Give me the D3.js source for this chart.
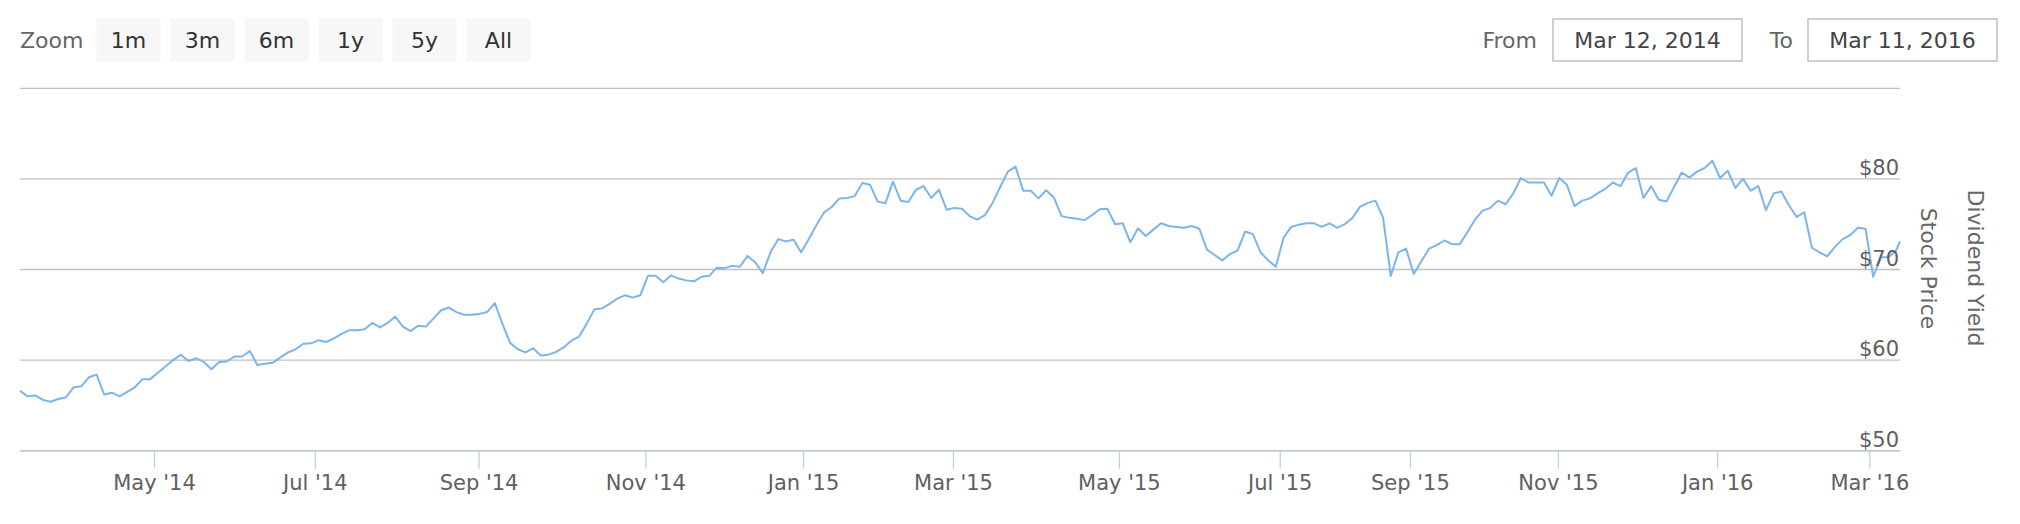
<!DOCTYPE html>
<html>
<head>
<meta charset="utf-8">
<script src="https://cdn.jsdelivr.net/npm/d3@7"></script>
<style>
  body { margin: 0; background: #fff; }
  text { font-family: "DejaVu Sans", sans-serif; }
</style>
</head>
<body>
<div id="chart-area"></div>
<script>
// Stock price, one value every 2nd trading day (last one is the final day)
var stockPrice = [
    56.6, 56.0, 56.1, 55.6, 55.4, 55.7, 55.9, 57.0, 57.1, 58.1,
    58.4, 56.2, 56.4, 56.0, 56.5, 57.0, 57.9, 57.9, 58.6, 59.3,
    60.0, 60.6, 59.9, 60.2, 59.8, 59.0, 59.8, 59.85, 60.4, 60.4,
    61.0, 59.45, 59.6, 59.7, 60.3, 60.85, 61.2, 61.8, 61.85, 62.2,
    62.0, 62.4, 62.9, 63.3, 63.3, 63.4, 64.1, 63.6, 64.1, 64.8,
    63.7, 63.2, 63.8, 63.7, 64.6, 65.5, 65.8, 65.3, 65.0, 65.0,
    65.1, 65.3, 66.3, 64.0, 61.9, 61.2, 60.85, 61.3, 60.5, 60.6,
    60.9, 61.4, 62.15, 62.6, 64.0, 65.6, 65.7, 66.2, 66.8, 67.15,
    66.9, 67.15, 69.3, 69.3, 68.6, 69.35, 69.0, 68.8, 68.7, 69.2,
    69.3, 70.2, 70.15, 70.4, 70.3, 71.5, 70.8, 69.6, 71.9, 73.35,
    73.1, 73.3, 71.9, 73.35, 74.9, 76.3, 76.9, 77.85, 77.9, 78.1,
    79.55, 79.35, 77.5, 77.3, 79.7, 77.6, 77.45, 78.8, 79.2, 77.9,
    78.8, 76.6, 76.8, 76.7, 75.9, 75.5, 76.0, 77.35, 79.1, 80.8,
    81.35, 78.7, 78.7, 77.85, 78.75, 77.95, 75.9, 75.7, 75.6, 75.45,
    76.0, 76.65, 76.7, 75.0, 75.1, 73.0, 74.55, 73.7, 74.4, 75.1,
    74.8, 74.7, 74.6, 74.8, 74.5, 72.2, 71.6, 71.0, 71.7, 72.1,
    74.2, 73.9, 71.9, 71.0, 70.3, 73.5, 74.7, 74.95, 75.1, 75.1,
    74.7, 75.1, 74.6, 75.0, 75.7, 76.95, 77.35, 77.6, 75.7, 69.3,
    71.9, 72.3, 69.5, 70.9, 72.3, 72.7, 73.2, 72.8, 72.8, 74.1,
    75.5, 76.5, 76.8, 77.6, 77.2, 78.4, 80.1, 79.6, 79.6, 79.6,
    78.15, 80.1, 79.35, 77.0, 77.6, 77.85, 78.4, 78.9, 79.6, 79.2,
    80.7, 81.2, 77.9, 79.2, 77.7, 77.5, 79.1, 80.7, 80.15, 80.8,
    81.2, 82.0, 80.1, 80.9, 79.0, 80.0, 78.7, 79.2, 76.55, 78.4,
    78.6, 77.1, 75.8, 76.3, 72.4, 71.9, 71.45, 72.5, 73.35, 73.8,
    74.6, 74.5, 69.2, 71.35, 71.35, 72.1, 73.1
];
var priceStep = 2;

// Market holidays (no data points)
var holidays = [
    "2014-04-18", "2014-05-26", "2014-07-04", "2014-09-01", "2014-11-27", "2014-12-25",
    "2015-01-01", "2015-01-19", "2015-02-16", "2015-04-03", "2015-05-25", "2015-07-03",
    "2015-09-07", "2015-11-26", "2015-12-25",
    "2016-01-01", "2016-01-18", "2016-02-15"
];
// Days the series has no point for (read from the axis spacing)
var missingDays = [
    "2015-07-20", "2015-07-21", "2015-07-22", "2015-07-23", "2015-07-24",
    "2015-07-27", "2015-07-28", "2015-07-29", "2015-07-30",
    "2015-10-12", "2015-10-13", "2015-10-14", "2015-10-15"
];

var yTicks = [50, 60, 70, 80, 90];
var yLabelTicks = [50, 60, 70, 80];
var zoomButtons = ["1m", "3m", "6m", "1y", "5y", "All"];
var fromLabel = "Mar 12, 2014";
var toLabel = "Mar 11, 2016";

var width = 2020;
var height = 524;
var plotLeft = 20;
var plotRight = 1900;

var svg = d3.select("#chart-area")
    .append("svg")
        .attr("width", width)
        .attr("height", height);

// Trading days of the series
var skip = new Set(holidays.concat(missingDays));
var fmtDay = d3.timeFormat("%Y-%m-%d");
var tradingDays = d3.timeDay.range(new Date(2014, 2, 12), new Date(2016, 2, 12))
    .filter(d => d.getDay() % 6 !== 0 && !skip.has(fmtDay(d)));

// Ordinal axis: every point equally spaced, dates in between interpolated
var xIndex = d3.scaleLinear()
    .domain([0, tradingDays.length - 1])
    .range([plotLeft, plotRight]);

var x = d3.scaleTime()
    .domain(tradingDays)
    .range(tradingDays.map((d, i) => xIndex(i)));

var y = d3.scaleLinear()
    .domain([50, 90])
    .range([450.7, 88.3]);

// Grid lines
svg.append("g")
    .attr("class", "grid")
    .selectAll("line")
    .data(yTicks)
    .enter()
    .append("line")
        .attr("x1", plotLeft)
        .attr("x2", plotRight)
        .attr("y1", d => y(d))
        .attr("y2", d => y(d))
        .attr("stroke", "#c0c0c0")
        .attr("stroke-width", 1.3);

// X Axis
var monthTicks = d3.timeMonth.every(2).range(tradingDays[0], tradingDays[tradingDays.length - 1]);
var xAxisCall = d3.axisBottom(x)
    .tickValues(monthTicks)
    .tickFormat(d3.timeFormat("%b '%y"))
    .tickSize(18)
    .tickSizeOuter(0);

var xAxisGroup = svg.append("g")
    .attr("class", "x-axis")
    .attr("transform", "translate(0, " + y(50) + ")")
    .call(xAxisCall);

xAxisGroup.select(".domain")
    .attr("stroke", "#c0d0e0")
    .attr("stroke-width", 1.3);
xAxisGroup.selectAll(".tick line")
    .attr("stroke", "#c0d0e0")
    .attr("stroke-width", 1.3);
xAxisGroup.selectAll(".tick text")
    .attr("y", 39)
    .attr("dy", 0)
    .attr("font-size", "21px")
    .attr("font-family", "DejaVu Sans, sans-serif")
    .attr("fill", "#606060");

// Price line
var points = stockPrice.map((v, i) => ({
    date: tradingDays[Math.min(i * priceStep, tradingDays.length - 1)],
    value: v
}));

var line = d3.line()
    .x(d => x(d.date))
    .y(d => y(d.value));

svg.append("path")
    .datum(points)
    .attr("fill", "none")
    .attr("stroke", "#7cb5ec")
    .attr("stroke-width", 2)
    .attr("stroke-linejoin", "round")
    .attr("d", line);

// Y labels (right side)
svg.append("g")
    .attr("class", "y-axis")
    .selectAll("text")
    .data(yLabelTicks)
    .enter()
    .append("text")
        .attr("x", 1899)
        .attr("y", d => y(d) - 4)
        .attr("text-anchor", "end")
        .attr("font-size", "21px")
        .attr("fill", "#606060")
        .text(d => "$" + d);

// Axis titles
svg.append("text")
    .attr("transform", "translate(1921, 268.5) rotate(90)")
    .attr("text-anchor", "middle")
    .attr("font-size", "22px")
    .attr("fill", "#666")
    .text("Stock Price");

svg.append("text")
    .attr("transform", "translate(1968, 268) rotate(90)")
    .attr("text-anchor", "middle")
    .attr("font-size", "22px")
    .attr("fill", "#666")
    .text("Dividend Yield");

// Range selector
svg.append("text")
    .attr("x", 20)
    .attr("y", 48)
    .attr("font-size", "22px")
    .attr("fill", "#666")
    .text("Zoom");

var buttons = svg.append("g")
    .attr("class", "zoom-buttons")
    .selectAll("g")
    .data(zoomButtons)
    .enter()
    .append("g")
        .attr("transform", (d, i) => "translate(" + (96.5 + i * 74) + ", 18)");

buttons.append("rect")
    .attr("width", 64)
    .attr("height", 44)
    .attr("fill", "#f7f7f7");

buttons.append("text")
    .attr("x", 32)
    .attr("y", 30)
    .attr("text-anchor", "middle")
    .attr("font-size", "22px")
    .attr("fill", "#333")
    .text(d => d);

// From / To inputs
var inputs = [
    { label: "From", value: fromLabel, labelEnd: 1537, boxX: 1553 },
    { label: "To", value: toLabel, labelEnd: 1793, boxX: 1808 }
];

var inputGroups = svg.selectAll(".range-input")
    .data(inputs)
    .enter()
    .append("g")
        .attr("class", "range-input");

inputGroups.append("text")
    .attr("x", d => d.labelEnd)
    .attr("y", 48)
    .attr("text-anchor", "end")
    .attr("font-size", "22px")
    .attr("fill", "#666")
    .text(d => d.label);

inputGroups.append("rect")
    .attr("x", d => d.boxX)
    .attr("y", 19)
    .attr("width", 189)
    .attr("height", 42)
    .attr("fill", "#fff")
    .attr("stroke", "#c0c0c0")
    .attr("stroke-width", 1.5);

inputGroups.append("text")
    .attr("x", d => d.boxX + 94.5)
    .attr("y", 48)
    .attr("text-anchor", "middle")
    .attr("font-size", "22px")
    .attr("fill", "#444")
    .text(d => d.value);
</script>
</body>
</html>
